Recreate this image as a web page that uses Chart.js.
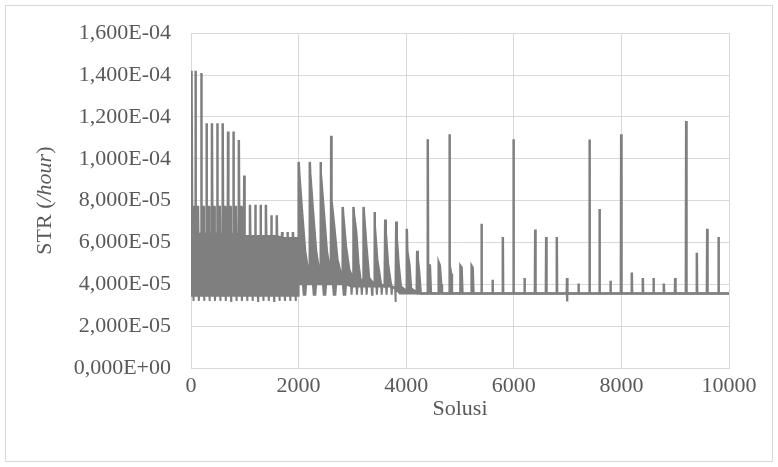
<!DOCTYPE html>
<html>
<head>
<meta charset="utf-8">
<script src="https://cdn.jsdelivr.net/npm/chart.js@4/dist/chart.umd.min.js"></script>
<style>
html,body{margin:0;padding:0;background:#fff;}
#wrap{position:relative;width:778px;height:467px;}
canvas{display:block;}
</style>
</head>
<body>
<div id="wrap"><canvas id="c" width="778" height="467"></canvas></div>
<script>
// Values. y in units of 1E-05 /hour, x = Solusi index.
// Upper envelope of the (very dense) STR series
const upperPts = [
[0,6.4],[4,14.2],[14,14.2],[20,7.7],[55,7.7],[60,6.4],[78,6.4],[84,14.2],[90,7.7],[130,7.7],[135,6.4],[186,6.4],[192,14.1],[198,7.7],[235,7.7],[240,6.4],
[284,6.4],[289,11.7],[295,7.7],[335,7.7],[340,6.4],[384,6.4],[389,11.7],[395,7.7],[435,7.7],[440,6.4],[484,6.4],[489,11.7],[495,7.7],[535,7.7],[540,6.4],
[584,6.4],[589,11.7],[595,7.7],[635,7.7],[640,6.4],[684,6.4],[689,11.3],[695,7.7],[735,7.7],[740,6.4],[784,6.4],[789,11.3],[795,7.7],[835,7.7],[840,6.4],
[884,6.4],[889,10.9],[895,7.7],[935,7.7],[940,6.4],[984,6.4],[990,9.2],[996,6.3],
[1090,6.3],[1096,7.8],[1102,6.3],[1190,6.3],[1196,7.8],[1202,6.3],[1288,6.3],[1294,7.8],[1300,6.3],[1386,6.3],[1392,7.8],[1398,6.3],
[1488,6.3],[1494,7.3],[1500,6.3],[1588,6.3],[1594,7.3],[1600,6.3],[1688,6.2],[1694,6.5],[1700,6.2],[1788,6.2],[1794,6.5],[1800,6.2],
[1888,6.2],[1894,6.5],[1900,6.2],[1985,6.2],[1992,4.4],
[1998,4.4],[2004,9.85],[2012,9.3],[2060,7.6],[2120,5.6],[2185,4.5],
[2202,4.4],[2208,9.85],[2216,9.3],[2264,7.6],[2324,5.6],[2390,4.5],
[2402,4.4],[2408,9.85],[2416,9.3],[2464,7.6],[2524,5.6],[2590,4.5],
[2600,4.4],[2606,11.1],[2612,8.0],[2660,6.8],[2720,5.2],[2795,4.4],
[2814,4.3],[2820,7.7],[2830,7.3],[2880,5.8],[2940,4.7],[3005,4.3],
[3014,4.3],[3020,7.7],[3030,7.3],[3070,6.5],[3110,5.0],[3150,4.2],[3200,4.2],
[3204,4.2],[3210,7.7],[3220,7.2],[3260,5.8],[3310,4.3],[3400,4.0],
[3404,4.0],[3410,7.45],[3420,6.8],[3460,5.2],[3530,4.0],[3600,3.9],
[3604,3.9],[3610,7.1],[3620,6.5],[3660,5.0],[3720,3.9],[3805,3.8],
[3809,3.8],[3815,7.0],[3825,6.2],[3860,4.9],[3900,3.9],[3990,3.7],
[4005,3.7],[4011,6.65],[4020,5.6],[4060,4.9],[4090,3.8],[4195,3.6],
[4198,3.6],[4204,5.6],[4215,5.2],[4240,4.6],[4270,3.56],
[4395,3.56],[4401,10.93],[4407,4.95],[4440,4.9],[4460,3.56],
[4598,3.56],[4604,5.04],[4625,4.9],[4650,4.0],[4665,3.56],
[4799,3.56],[4805,11.17],[4811,4.9],[4835,4.5],[4850,3.56],
[5002,3.56],[5008,4.88],[5030,4.8],[5045,3.56],
[5210,3.56],[5216,4.88],[5235,4.8],[5250,3.56],
[5394,3.56],[5400,6.89],[5406,3.56],
[5599,3.56],[5605,4.22],[5611,3.56],
[5790,3.56],[5796,6.26],[5802,3.56],
[5988,3.56],[5994,10.93],[6000,3.56],
[6193,3.56],[6199,4.3],[6205,3.56],
[6392,3.56],[6398,6.62],[6404,3.56],
[6596,3.56],[6602,6.26],[6608,3.56],
[6793,3.56],[6799,6.26],[6805,3.56],
[6984,3.56],[6990,4.3],[6996,3.56],
[7197,3.56],[7203,4.04],[7209,3.56],
[7401,3.56],[7407,10.92],[7413,3.56],
[7587,3.56],[7593,7.6],[7599,3.56],
[7791,3.56],[7797,4.17],[7803,3.56],
[7990,3.56],[7996,11.17],[8002,3.56],
[8187,3.56],[8193,4.56],[8199,3.56],
[8392,3.56],[8398,4.3],[8404,3.56],
[8591,3.56],[8597,4.3],[8603,3.56],
[8782,3.56],[8788,4.04],[8794,3.56],
[8994,3.56],[9000,4.3],[9006,3.56],
[9198,3.56],[9204,11.8],[9210,3.56],
[9396,3.56],[9402,5.51],[9408,3.56],
[9589,3.56],[9595,6.65],[9601,3.56],
[9799,3.56],[9805,6.26],[9811,3.56],
[10000,3.56]
];
// Lower envelope of the same series
const lowerPts = [
[0,3.45],[42,3.45],[46,3.2],[50,3.45],[142,3.45],[146,3.2],[150,3.45],[242,3.45],[246,3.2],[250,3.45],
[342,3.45],[346,3.2],[350,3.45],[442,3.45],[446,3.2],[450,3.45],[542,3.45],[546,3.2],[550,3.45],
[642,3.45],[646,3.2],[650,3.45],[742,3.45],[746,3.2],[750,3.45],[842,3.45],[846,3.2],[850,3.45],
[942,3.45],[946,3.2],[950,3.45],[1042,3.45],[1046,3.2],[1050,3.45],[1142,3.45],[1146,3.2],[1150,3.45],
[1242,3.45],[1246,3.2],[1250,3.45],[1342,3.45],[1346,3.2],[1350,3.45],[1442,3.45],[1446,3.2],[1450,3.45],
[1542,3.45],[1546,3.2],[1550,3.45],[1642,3.45],[1646,3.2],[1650,3.45],[1742,3.45],[1746,3.2],[1750,3.45],
[1842,3.45],[1846,3.2],[1850,3.45],[1942,3.45],[1946,3.2],[1950,3.45],[1990,3.45],[2000,4.0],
[2080,4.0],[2095,3.5],[2125,3.5],[2140,4.0],
[2266,4.0],[2281,3.5],[2311,3.5],[2326,4.0],
[2452,4.0],[2467,3.5],[2497,3.5],[2512,4.0],
[2638,4.0],[2653,3.5],[2683,3.5],[2698,4.0],
[2823,4.0],[2838,3.5],[2868,3.5],[2883,4.0],
[2975,3.9],[2985,3.5],[2995,3.9],[3075,3.9],[3085,3.5],[3095,3.9],[3165,3.9],[3175,3.5],[3185,3.9],
[3255,3.9],[3265,3.5],[3275,3.9],[3355,3.9],[3365,3.5],[3375,3.9],[3445,3.9],[3455,3.5],[3465,3.9],
[3535,3.9],[3545,3.5],[3555,3.9],[3625,3.9],[3635,3.5],[3645,3.9],[3720,3.9],[3730,3.5],[3740,3.9],
[3795,3.8],[3801,3.15],[3807,3.8],[3880,3.56],
[6984,3.56],[6990,3.22],[6996,3.56],[10000,3.56]
];
const xTicks = [0, 2000, 4000, 6000, 8000, 10000];
const yTicksE5 = [0, 2, 4, 6, 8, 10, 12, 14, 16];
const xTitle = 'Solusi';
const yTitleParts = [['STR (', 'normal'], ['/hour', 'italic'], [')', 'normal']];

const GRAY = '#7f7f7f';
const TXT = '#595959';
const GRID = '#d9d9d9';
const FONT = "'Liberation Serif', 'Times New Roman', serif";

function fmtSci(v) {
  const val = v * 1e-5;
  if (Math.abs(val) < 1e-20) return '0,000E+00';
  let e = Math.floor(Math.log10(Math.abs(val)) + 1e-9);
  const m = val / Math.pow(10, e);
  return m.toFixed(3).replace('.', ',') + 'E' + (e < 0 ? '-' : '+') + String(Math.abs(e)).padStart(2, '0');
}

const frame = {
  id: 'frame',
  beforeDraw(chart) {
    const ctx = chart.ctx;
    ctx.save();
    ctx.strokeStyle = GRID;
    ctx.lineWidth = 1;
    ctx.strokeRect(5.5, 5.5, 767, 456);
    ctx.restore();
  },
  afterDraw(chart) {
    const ctx = chart.ctx;
    ctx.save();
    ctx.translate(45, (chart.chartArea.top + chart.chartArea.bottom) / 2);
    ctx.rotate(-Math.PI / 2);
    ctx.fillStyle = TXT;
    ctx.textBaseline = 'middle';
    let total = 0;
    const widths = yTitleParts.map(([t, s]) => { ctx.font = s + ' 22px ' + FONT; const w = ctx.measureText(t).width; total += w; return w; });
    let x = -total / 2;
    yTitleParts.forEach(([t, s], i) => { ctx.font = s + ' 22px ' + FONT; ctx.textAlign = 'left'; ctx.fillText(t, x, 0); x += widths[i]; });
    ctx.restore();
  }
};

new Chart(document.getElementById('c'), {
  type: 'line',
  data: {
    datasets: [
      { data: upperPts.map(p => ({x: p[0], y: p[1]})), borderColor: GRAY, backgroundColor: GRAY, borderWidth: 2.5, pointRadius: 0, fill: '+1', tension: 0 },
      { data: lowerPts.map(p => ({x: p[0], y: p[1]})), borderColor: GRAY, backgroundColor: GRAY, borderWidth: 2, pointRadius: 0, fill: false, tension: 0 }
    ]
  },
  options: {
    responsive: false,
    animation: false,
    layout: { padding: { left: 0, right: 49, top: 30, bottom: 0 } },
    plugins: { legend: { display: false }, tooltip: { enabled: false } },
    scales: {
      x: {
        type: 'linear', min: 0, max: 10000,
        afterBuildTicks: s => { s.ticks = xTicks.map(v => ({value: v})); },
        afterFit: s => { s.height = 99; },
        grid: { color: GRID, drawTicks: false },
        border: { color: GRID },
        ticks: { color: TXT, font: { family: FONT, size: 22 }, padding: 5, maxRotation: 0, callback: v => String(v) },
        title: { display: true, text: xTitle, color: TXT, font: { family: FONT, size: 22 }, padding: { top: 0, bottom: 45 } }
      },
      y: {
        min: 0, max: 16,
        afterBuildTicks: s => { s.ticks = yTicksE5.map(v => ({value: v})); },
        afterFit: s => { s.width = 191; },
        grid: { color: GRID, drawTicks: false },
        border: { color: GRID },
        ticks: { color: TXT, font: { family: FONT, size: 22 }, padding: 20, callback: v => fmtSci(v) }
      }
    }
  },
  plugins: [frame]
});
</script>
</body>
</html>
